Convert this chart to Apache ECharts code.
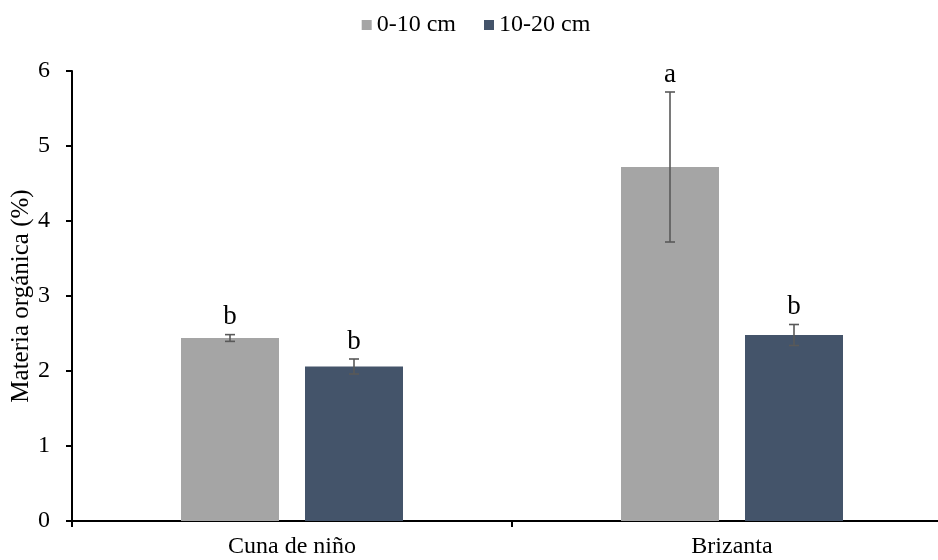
<!DOCTYPE html>
<html>
<head>
<meta charset="utf-8">
<script src="https://cdn.jsdelivr.net/npm/echarts@6/dist/echarts.min.js"></script>
<style>
  html, body { margin: 0; padding: 0; background: #fff; overflow: hidden; }
  /* el eje X sigue más allá del borde derecho, como en la figura original */
  #chart { width: 952px; height: 560px; }
</style>
</head>
<body>
<div id="chart"></div>
<script>
// datos
const categories = ['Cuna de niño', 'Brizanta'];
const depths = ['0-10 cm', '10-20 cm'];
const mean010 = [2.44, 4.72];
const mean1020 = [2.06, 2.48];
const err010 = [0.045, 1.0];
const err1020 = [0.1, 0.14];
const letters010 = ['b', 'a'];
const letters1020 = ['b', 'b'];
const yTicks = [0, 1, 2, 3, 4, 5, 6];

const FONT = 'Liberation Serif';
const BAR_W = 98;
const BAR_GAP = 26;

const chart = echarts.init(document.getElementById('chart'));

function errData(means, errs, letters) {
  return means.map(function (m, i) {
    return [i, m - errs[i], m + errs[i], letters[i]];
  });
}

// barra de error + letra
function errRender(side) {
  return function (params, api) {
    const idx = api.value(0);
    const lo = api.coord([idx, api.value(1)]);
    const hi = api.coord([idx, api.value(2)]);
    const x = lo[0] + side * (BAR_W + BAR_GAP) / 2;
    const cap = 5;
    const st = { stroke: '#595959', lineWidth: 1.6 };
    return {
      type: 'group',
      children: [
        { type: 'line', shape: { x1: x, y1: hi[1], x2: x, y2: lo[1] }, style: st },
        { type: 'line', shape: { x1: x - cap, y1: hi[1], x2: x + cap, y2: hi[1] }, style: st },
        { type: 'line', shape: { x1: x - cap, y1: lo[1], x2: x + cap, y2: lo[1] }, style: st },
        {
          type: 'text',
          x: x,
          y: hi[1] - 4,
          style: {
            text: api.value(3),
            fill: '#000',
            font: '27px "' + FONT + '"',
            align: 'center',
            verticalAlign: 'bottom'
          }
        }
      ]
    };
  };
}

chart.setOption({
  animation: false,
  textStyle: { fontFamily: FONT },
  legend: {
    data: depths,
    top: 8,
    left: 'center',
    itemWidth: 10,
    itemHeight: 10,
    itemGap: 28,
    icon: 'rect',
    textStyle: { fontFamily: FONT, fontSize: 24, color: '#000' }
  },
  grid: {
    left: 72,
    right: 0,
    top: 71,
    bottom: 39,
    outerBoundsMode: 'none'
  },
  xAxis: {
    type: 'category',
    data: categories,
    axisLine: { lineStyle: { color: '#000', width: 2 } },
    axisTick: { show: true, length: 6, lineStyle: { color: '#000', width: 2 } },
    axisLabel: { fontFamily: FONT, fontSize: 24, color: '#000', margin: 14 }
  },
  yAxis: {
    type: 'value',
    min: yTicks[0],
    max: yTicks[yTicks.length - 1],
    interval: 1,
    name: 'Materia orgánica (%)',
    nameLocation: 'middle',
    nameRotate: 90,
    nameGap: 38,
    nameMoveOverlap: false,
    nameTextStyle: { fontFamily: FONT, fontSize: 25, color: '#000' },
    axisLine: { show: true, lineStyle: { color: '#000', width: 2 } },
    axisTick: { show: true, length: 6, lineStyle: { color: '#000', width: 2 } },
    axisLabel: { fontFamily: FONT, fontSize: 24, color: '#000', margin: 22 },
    splitLine: { show: false }
  },
  series: [
    {
      name: depths[0],
      type: 'bar',
      data: mean010,
      barWidth: BAR_W,
      barGap: (BAR_GAP / BAR_W * 100) + '%',
      itemStyle: { color: '#A5A5A5' }
    },
    {
      name: depths[1],
      type: 'bar',
      data: mean1020,
      barWidth: BAR_W,
      barGap: (BAR_GAP / BAR_W * 100) + '%',
      itemStyle: { color: '#44546A' }
    },
    {
      name: 'err010',
      type: 'custom',
      data: errData(mean010, err010, letters010),
      encode: { x: 0, y: [1, 2] },
      renderItem: errRender(-1),
      z: 5
    },
    {
      name: 'err1020',
      type: 'custom',
      data: errData(mean1020, err1020, letters1020),
      encode: { x: 0, y: [1, 2] },
      renderItem: errRender(1),
      z: 5
    }
  ]
});
</script>
</body>
</html>
